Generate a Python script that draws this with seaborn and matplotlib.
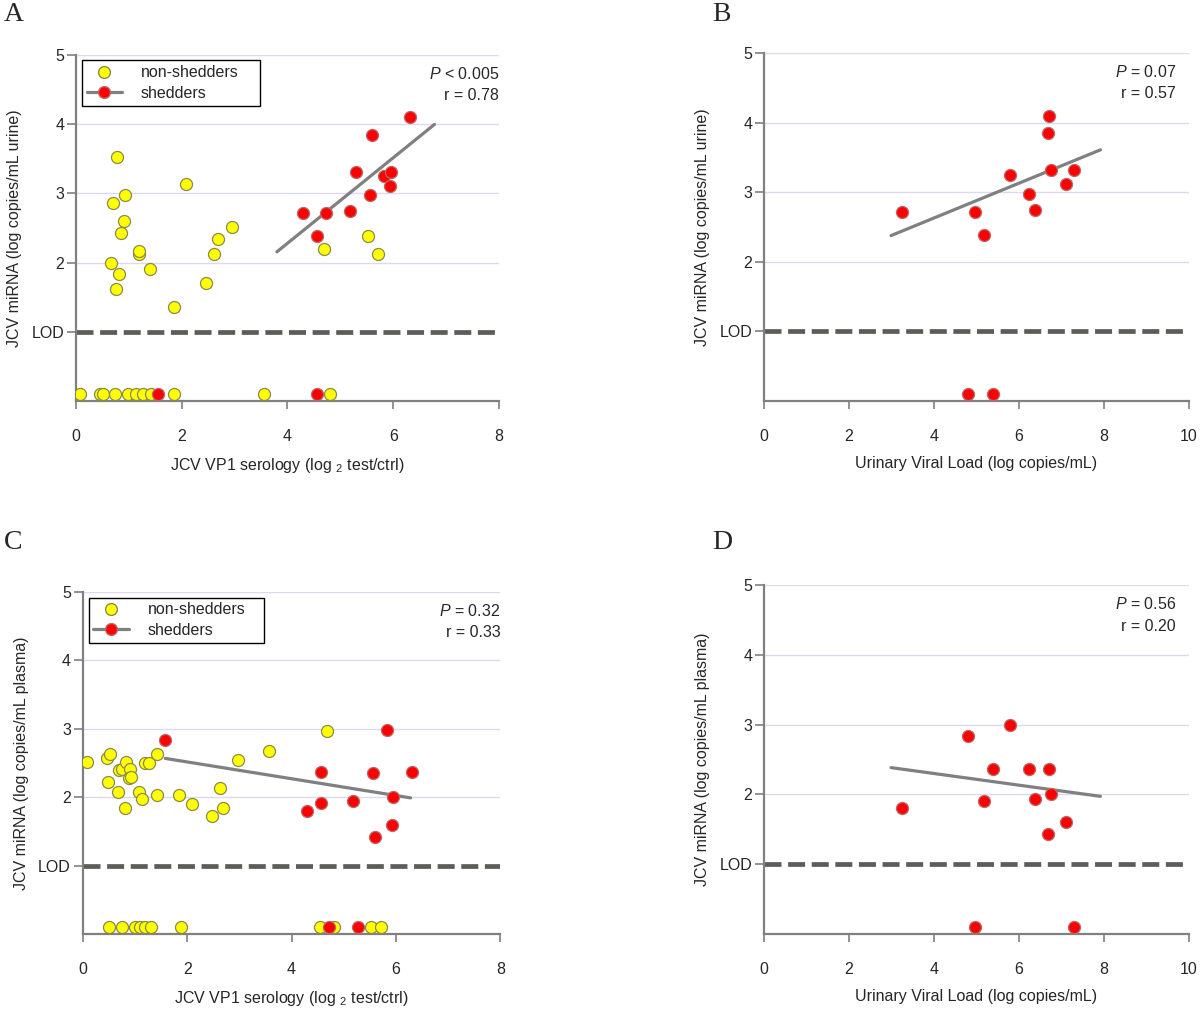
import numpy as np
import pandas as pd
import matplotlib.pyplot as plt
import seaborn as sns
from matplotlib.lines import Line2D

# значения ниже предела обнаружения рисуются на этой высоте
LOD = 1
BELOW_LOD = 0.1

# A: miRNA в моче против серологии
a_non_x = [0.78, 0.70, 0.92, 0.90, 0.86, 1.19, 1.20, 0.66, 0.82, 0.75, 1.40, 1.86,
           2.09, 2.46, 2.62, 2.69, 2.96, 4.69, 5.52, 5.72]
a_non_y = [3.52, 2.86, 2.98, 2.60, 2.42, 2.12, 2.17, 1.99, 1.83, 1.62, 1.91, 1.36,
           3.13, 1.70, 2.13, 2.34, 2.52, 2.19, 2.38, 2.12]
a_non_lod_x = [0.07, 0.45, 0.51, 0.74, 0.99, 1.13, 1.26, 1.41, 1.85, 3.56, 4.81]
a_shed_x = [4.29, 4.72, 4.56, 5.18, 5.29, 5.57, 5.60, 5.82, 5.96, 5.94, 6.31]
a_shed_y = [2.72, 2.72, 2.39, 2.75, 3.31, 2.98, 3.85, 3.25, 3.31, 3.10, 4.10]
a_shed_lod_x = [1.55, 4.56]
a_fit_range = [3.80, 6.78]

# B: miRNA в моче против вирусной нагрузки
b_shed_x = [3.25, 4.97, 5.18, 5.80, 6.23, 6.38, 6.68, 6.71, 6.75, 7.12, 7.29]
b_shed_y = [2.72, 2.72, 2.39, 3.25, 2.98, 2.74, 3.85, 4.10, 3.32, 3.11, 3.32]
b_shed_lod_x = [4.81, 5.40]
b_fit_range = [2.99, 7.92]

# C: miRNA в плазме против серологии
c_non_x = [0.08, 0.47, 0.52, 0.48, 0.67, 0.80, 0.70, 0.75, 0.83, 0.91, 0.89, 0.93,
           1.08, 1.14, 1.20, 1.27, 1.42, 1.42, 1.84, 2.09, 2.97, 2.48, 2.62, 2.69,
           3.57, 4.68]
c_non_y = [2.52, 2.57, 2.63, 2.22, 2.08, 1.85, 2.40, 2.42, 2.52, 2.41, 2.28, 2.29,
           2.08, 1.97, 2.50, 2.50, 2.63, 2.03, 2.03, 1.90, 2.55, 1.72, 2.14, 1.84,
           2.67, 2.97]
c_non_lod_x = [0.51, 0.75, 1.00, 1.10, 1.20, 1.30, 1.88, 4.55, 4.82, 5.52, 5.71]
c_shed_x = [1.57, 4.56, 4.56, 4.29, 5.17, 5.56, 5.59, 5.82, 5.94, 5.93, 6.30]
c_shed_y = [2.84, 2.37, 1.91, 1.80, 1.94, 2.36, 1.42, 2.99, 2.00, 1.59, 2.37]
c_shed_lod_x = [4.71, 5.28]
c_fit_range = [1.58, 6.28]

# D: miRNA в плазме против вирусной нагрузки
d_shed_x = [3.25, 4.81, 5.18, 5.39, 5.80, 6.23, 6.38, 6.70, 6.75, 6.68, 7.12]
d_shed_y = [1.80, 2.84, 1.91, 2.37, 2.99, 2.36, 1.94, 2.37, 2.00, 1.43, 1.60]
d_shed_lod_x = [4.97, 7.29]
d_fit_range = [2.99, 7.92]

stats = {'A': ('$P$ < 0.005', 'r = 0.78'), 'B': ('$P$ = 0.07', 'r = 0.57'),
         'C': ('$P$ = 0.32', 'r = 0.33'), 'D': ('$P$ = 0.56', 'r = 0.20')}

sns.set_style('white')
plt.rcParams['font.family'] = ['Liberation Sans', 'DejaVu Sans']
plt.rcParams['mathtext.fontset'] = 'custom'
plt.rcParams['mathtext.rm'] = 'Liberation Sans'
plt.rcParams['mathtext.it'] = 'Liberation Sans:italic'

YELLOW, YEDGE = '#ffff00', '#8a8a4a'
RED, REDGE = '#ff0000', '#b86a6a'
GREY = '#808080'
FS = 11.5

fig = plt.figure(figsize=(12, 10.1), dpi=100)


def make_df(x, y, lod_x):
    return pd.DataFrame({'x': list(x) + list(lod_x),
                         'y': list(y) + [BELOW_LOD] * len(lod_x)})


def panel(rect, letter, xmax, xlabel, ylabel, shed, non=None, fit_range=None,
          legend=False):
    ax = fig.add_axes(rect)
    for y in [2, 3, 4, 5]:
        ax.axhline(y, color='#dadaf4', lw=1, zorder=0)
    ax.axhline(LOD, color='#5c5c58', lw=3.4, dashes=(3.6, 1.4), zorder=1)

    # линия регрессии по шеддерам выше LOD
    sx, sy = np.array(shed[0]), np.array(shed[1])
    k, b = np.polyfit(sx, sy, 1)
    fx = np.array(fit_range)
    ax.plot(fx, k * fx + b, color=GREY, lw=2.3, zorder=2)

    if non is not None:
        sns.scatterplot(data=make_df(*non), x='x', y='y', ax=ax, color=YELLOW,
                        edgecolor=YEDGE, linewidth=0.9, s=75, zorder=3)
    sns.scatterplot(data=make_df(*shed), x='x', y='y', ax=ax, color=RED,
                    edgecolor=REDGE, linewidth=0.9, s=75, zorder=4)

    ax.set_xlim(0, xmax)
    ax.set_ylim(0, 5)
    ax.set_xticks(np.arange(0, xmax + 1, 2))
    ax.set_yticks([1, 2, 3, 4, 5])
    ax.set_yticklabels(['LOD', '2', '3', '4', '5'])
    for s in ['top', 'right']:
        ax.spines[s].set_visible(False)
    for s in ['left', 'bottom']:
        ax.spines[s].set_color(GREY)
        ax.spines[s].set_linewidth(1.6)
    ax.tick_params(axis='y', length=6.5, width=1.2, color=GREY, pad=2,
                   labelsize=FS, left=True)
    ax.tick_params(axis='x', length=6, width=1.2, color=GREY, pad=14,
                   labelsize=FS, bottom=True)
    ax.set_xlabel(xlabel, fontsize=FS, labelpad=9)
    ax.set_ylabel(ylabel, fontsize=FS, labelpad=7)

    p_txt, r_txt = stats[letter]
    tx = 1.0 if legend else 0.97
    ax.text(tx, 0.945, p_txt, transform=ax.transAxes, ha='right', va='center',
            fontsize=FS)
    ax.text(tx, 0.882, r_txt, transform=ax.transAxes, ha='right', va='center',
            fontsize=FS)

    if legend:
        handles = [
            Line2D([], [], ls='none', marker='o', markersize=8.5,
                   markerfacecolor=YELLOW, markeredgecolor=YEDGE),
            Line2D([], [], color=GREY, lw=2.3, marker='o', markersize=8.5,
                   markerfacecolor=RED, markeredgecolor=REDGE),
        ]
        leg = ax.legend(handles, ['non-shedders', 'shedders'], loc='upper left',
                        bbox_to_anchor=(0.014, 0.984, 0.42, 0.0), mode='expand',
                        borderaxespad=0, fontsize=FS, handlelength=2.2,
                        handletextpad=1.2, labelspacing=0.35, borderpad=0.3,
                        fancybox=False, framealpha=1)
        leg.get_frame().set_edgecolor('black')
        leg.get_frame().set_linewidth(1.0)
    return ax


xlab_sero = 'JCV VP1 serology (log ${}_2$ test/ctrl)'
xlab_load = 'Urinary Viral Load (log copies/mL)'
ylab_urine = 'JCV miRNA (log copies/mL urine)'
ylab_plasma = 'JCV miRNA (log copies/mL plasma)'

panel([0.0633, 0.603, 0.3525, 0.3426], 'A', 8, xlab_sero, ylab_urine,
      (a_shed_x, a_shed_y, a_shed_lod_x), (a_non_x, a_non_y, a_non_lod_x),
      a_fit_range, legend=True)
panel([0.6367, 0.603, 0.354, 0.3446], 'B', 10, xlab_load, ylab_urine,
      (b_shed_x, b_shed_y, b_shed_lod_x), None, b_fit_range)
panel([0.069, 0.0752, 0.348, 0.3386], 'C', 8, xlab_sero, ylab_plasma,
      (c_shed_x, c_shed_y, c_shed_lod_x), (c_non_x, c_non_y, c_non_lod_x),
      c_fit_range, legend=True)
panel([0.6367, 0.0752, 0.354, 0.3455], 'D', 10, xlab_load, ylab_plasma,
      (d_shed_x, d_shed_y, d_shed_lod_x), None, d_fit_range)

for letter, (lx, ly) in {'A': (4, 2), 'B': (712, 2), 'C': (4, 530),
                         'D': (712, 530)}.items():
    fig.text(lx / 1200, 1 - ly / 1010, letter, family='Liberation Serif',
             fontsize=20, ha='left', va='top')

plt.savefig('out.png', dpi=100)
